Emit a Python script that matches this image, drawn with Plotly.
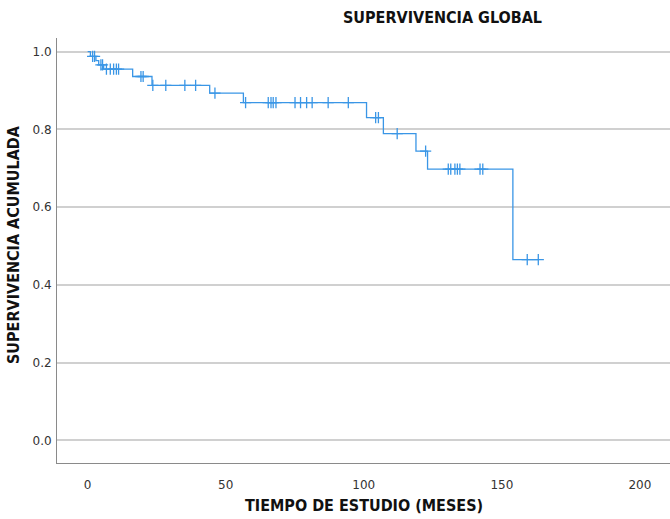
import numpy as np
import plotly.graph_objects as go

# Kaplan-Meier estimate: event times (months) and survival after each event
event_times = [1.0, 3.0, 4.0, 5.8, 16.3, 23.3, 44.2, 56.4, 101.0, 107.1, 118.9, 123.1, 154.0]
surv_after = [0.988, 0.977, 0.966, 0.955, 0.936, 0.913, 0.893, 0.869, 0.830, 0.789, 0.744, 0.698, 0.465]

# Censored observations (months)
censor_times = [1.8, 2.5, 4.8, 5.4, 6.8, 8.2, 9.4, 10.4, 11.2, 19.3, 20.1, 23.6,
                28.3, 35.2, 39.1, 46.1, 57.2, 65.4, 66.4, 67.2, 68.2, 75.1, 77.1,
                79.3, 81.3, 87.1, 94.4, 104.3, 105.3, 112.1, 122.4, 130.6, 131.5,
                133.0, 133.9, 134.8, 142.1, 143.1, 159.2, 163.2]

x_ticks = [0, 50, 100, 150, 200]
y_ticks = [0.0, 0.2, 0.4, 0.6, 0.8, 1.0]

title_text = "SUPERVIVENCIA GLOBAL"
x_title = "TIEMPO DE ESTUDIO (MESES)"
y_title = "SUPERVIVENCIA ACUMULADA"

BLUE = "#3a96e6"

ev = np.array(event_times)
sv = np.array(surv_after)
ct = np.array(censor_times)


def surv_at(t):
    idx = np.searchsorted(ev, t, side="right") - 1
    return 1.0 if idx < 0 else float(sv[idx])


last_t = max(ct.max(), ev.max())
step_x = [0.0] + list(ev) + [last_t]
step_y = [1.0] + list(sv) + [surv_at(last_t)]
censor_y = [surv_at(t) for t in ct]

fig = go.Figure()
fig.add_trace(go.Scatter(
    x=step_x, y=step_y, mode="lines", line=dict(color=BLUE, width=1.3, shape="hv"),
    hoverinfo="skip", showlegend=False,
))
fig.add_trace(go.Scatter(
    x=ct, y=censor_y, mode="markers",
    marker=dict(symbol="cross-thin", size=8, line=dict(color=BLUE, width=1.3)),
    showlegend=False,
))

TITLE_FONT = dict(family="DejaVu Sans Condensed, Liberation Sans, Arial", size=16, color="#111111")

# plot area spans pixels x 57..670, y 38..463
PL, PT, PW, PH = 57, 38, 613, 425


def px_x(px):
    return (px - PL) / PW


def px_y(py):
    return (PT + PH - py) / PH


fig.update_layout(
    width=670, height=519,
    margin=dict(l=PL, r=0, t=PT, b=519 - PT - PH),
    paper_bgcolor="white", plot_bgcolor="white",
    showlegend=False,
    font=dict(family="DejaVu Sans, Verdana, sans-serif", size=12, color="#333333"),
    xaxis=dict(
        range=[-11.1, 210.9], tickvals=x_ticks, ticktext=[str(v) for v in x_ticks],
        showgrid=False, zeroline=False, showline=True, linecolor="#8a8a8a", linewidth=1,
        ticks="outside", ticklen=0, ticklabelstandoff=11,
    ),
    yaxis=dict(
        range=[-0.058, 1.035], tickvals=y_ticks, ticktext=[f"{v:.1f}" for v in y_ticks],
        showgrid=True, gridcolor="#d0d0d0", gridwidth=1.5, zeroline=False,
        showline=True, linecolor="#8a8a8a", linewidth=1,
        ticks="outside", ticklen=0, ticklabelstandoff=2,
    ),
    annotations=[
        dict(text=f"<b>{title_text}</b>", x=px_x(442), y=px_y(17), xref="paper", yref="paper",
             xanchor="center", yanchor="middle", showarrow=False, font=TITLE_FONT),
        dict(text=f"<b>{x_title}</b>", x=px_x(364), y=px_y(505), xref="paper", yref="paper",
             xanchor="center", yanchor="middle", showarrow=False, font=TITLE_FONT),
        dict(text=f"<b>{y_title}</b>", x=px_x(13), y=px_y(245), xref="paper", yref="paper",
             xanchor="center", yanchor="middle", textangle=-90, showarrow=False, font=TITLE_FONT),
    ],
)

fig.write_html("out.html")
